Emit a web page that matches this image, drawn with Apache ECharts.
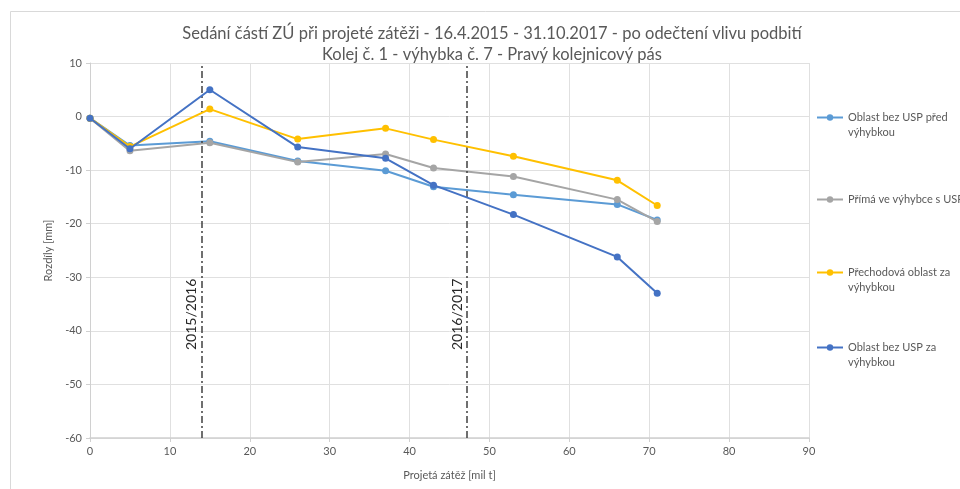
<!DOCTYPE html>
<html>
<head>
<meta charset="utf-8">
<script src="https://cdn.jsdelivr.net/npm/echarts@6/dist/echarts.min.js"></script>
<style>
  html, body { margin: 0; padding: 0; background: #fff; }
  #main { width: 960px; height: 489px; }
</style>
</head>
<body>
<div id="main"></div>
<script>
// projetá zátěž [mil t]
var loads = [0, 5, 15, 26, 37, 43, 53, 66, 71];
// rozdíly [mm]
var predVyhybkou = [-0.3, -5.4, -4.6, -8.3, -10.1, -13.1, -14.6, -16.4, -19.3];
var primaUSP = [-0.3, -6.4, -4.9, -8.5, -7.0, -9.6, -11.2, -15.5, -19.6];
var prechodova = [-0.3, -5.6, 1.4, -4.2, -2.2, -4.3, -7.4, -11.9, -16.6];
var zaVyhybkou = [-0.3, -6.0, 5.0, -5.7, -7.8, -12.8, -18.3, -26.2, -33.0];

var seriesNames = ['Oblast bez USP před výhybkou', 'Přímá ve výhybce s USP', 'Přechodová oblast za výhybkou', 'Oblast bez USP za výhybkou'];
var legendLabels = ['Oblast bez USP před\nvýhybkou', 'Přímá ve výhybce s USP', 'Přechodová oblast za\nvýhybkou', 'Oblast bez USP za\nvýhybkou'];
var colors = ['#5B9BD5', '#A5A5A5', '#FFC000', '#4472C4'];

// hranice roků
var yearMarks = [14, 47.2];
var yearLabels = ['2015/2016', '2016/2017'];

var FONT = 'Lato, sans-serif';
var GRAY = '#595959';

function pairs(vals) {
    return loads.map(function (x, i) { return [x, vals[i]]; });
}

var myChart = echarts.init(document.getElementById('main'));

var allVals = [predVyhybkou, primaUSP, prechodova, zaVyhybkou];
var series = [];
for (var i = 0; i < 4; i++) {
    series.push({
        name: seriesNames[i],
        type: 'line',
        data: pairs(allVals[i]),
        symbol: 'circle',
        symbolSize: 7,
        color: colors[i],
        lineStyle: { width: 2 },
        z: 3 + i
    });
}
// svislé čáry
series[0].markLine = {
    silent: true,
    symbol: 'none',
    lineStyle: { color: '#404040', width: 1.5, type: [7, 3, 2, 3] },
    label: {
        show: true,
        position: 'insideStartTop',
        distance: [88, 3],
        color: '#262626',
        fontFamily: FONT,
        fontSize: 14,
        formatter: function (p) { return yearLabels[p.dataIndex]; }
    },
    data: yearMarks.map(function (v) { return { xAxis: v }; })
};

// legenda: první řádek textu zarovnaný s ikonou
var legendTops = [95, 192, 250, 325];
var legends = [];
for (var j = 0; j < 4; j++) {
    var twoLines = legendLabels[j].indexOf('\n') > -1;
    legends.push({
        left: 816,
        top: legendTops[j],
        padding: 0,
        orient: 'vertical',
        data: [seriesNames[j]],
        itemWidth: 26,
        itemHeight: 8,
        formatter: (function (k, two) {
            return function () { return (two ? '\n' : '') + legendLabels[k]; };
        })(j, twoLines),
        textStyle: {
            color: GRAY,
            fontFamily: FONT,
            fontSize: 11,
            lineHeight: 15
        }
    });
}

var options = {
    animation: false,
    backgroundColor: '#fff',
    textStyle: { fontFamily: FONT },
    title: {
        text: 'Sedání částí ZÚ při projeté zátěži - 16.4.2015 - 31.10.2017 - po odečtení vlivu podbití\nKolej č. 1 - výhybka č. 7 - Pravý kolejnicový pás',
        left: 487,
        top: 18,
        textAlign: 'center',
        textStyle: {
            color: GRAY,
            fontFamily: FONT,
            fontSize: 16.5,
            fontWeight: 'normal',
            lineHeight: 21
        }
    },
    graphic: [{
        type: 'rect',
        left: 8,
        top: 9,
        shape: { width: 960, height: 500 },
        style: { fill: 'none', stroke: '#d9d9d9', lineWidth: 1 },
        silent: true
    }],
    legend: legends,
    grid: { left: 90, right: 151, top: 63, bottom: 51 },
    xAxis: {
        type: 'value',
        min: 0,
        max: 90,
        interval: 10,
        name: 'Projetá zátěž [mil t]',
        nameLocation: 'middle',
        nameGap: 32,
        nameTextStyle: { color: GRAY, fontSize: 11, fontFamily: FONT },
        axisLine: { onZero: false, lineStyle: { color: '#d0d0d0', width: 1.5 } },
        axisTick: { show: true, length: 4, lineStyle: { color: '#d0d0d0' } },
        axisLabel: { color: GRAY, fontSize: 11, margin: 8 },
        splitLine: { show: true, lineStyle: { color: '#e0e0e0', width: 1 } }
    },
    yAxis: {
        type: 'value',
        min: -60,
        max: 10,
        interval: 10,
        name: 'Rozdíly [mm]',
        nameLocation: 'middle',
        nameGap: 27,
        nameTextStyle: { color: GRAY, fontSize: 11, fontFamily: FONT },
        axisLine: { show: true, lineStyle: { color: '#d0d0d0', width: 1 } },
        axisTick: { show: true, length: 4, lineStyle: { color: '#d0d0d0' } },
        axisLabel: { color: GRAY, fontSize: 11, margin: 8 },
        splitLine: { show: true, lineStyle: { color: '#e0e0e0', width: 1 } }
    },
    series: series
};
myChart.setOption(options);
</script>
</body>
</html>
